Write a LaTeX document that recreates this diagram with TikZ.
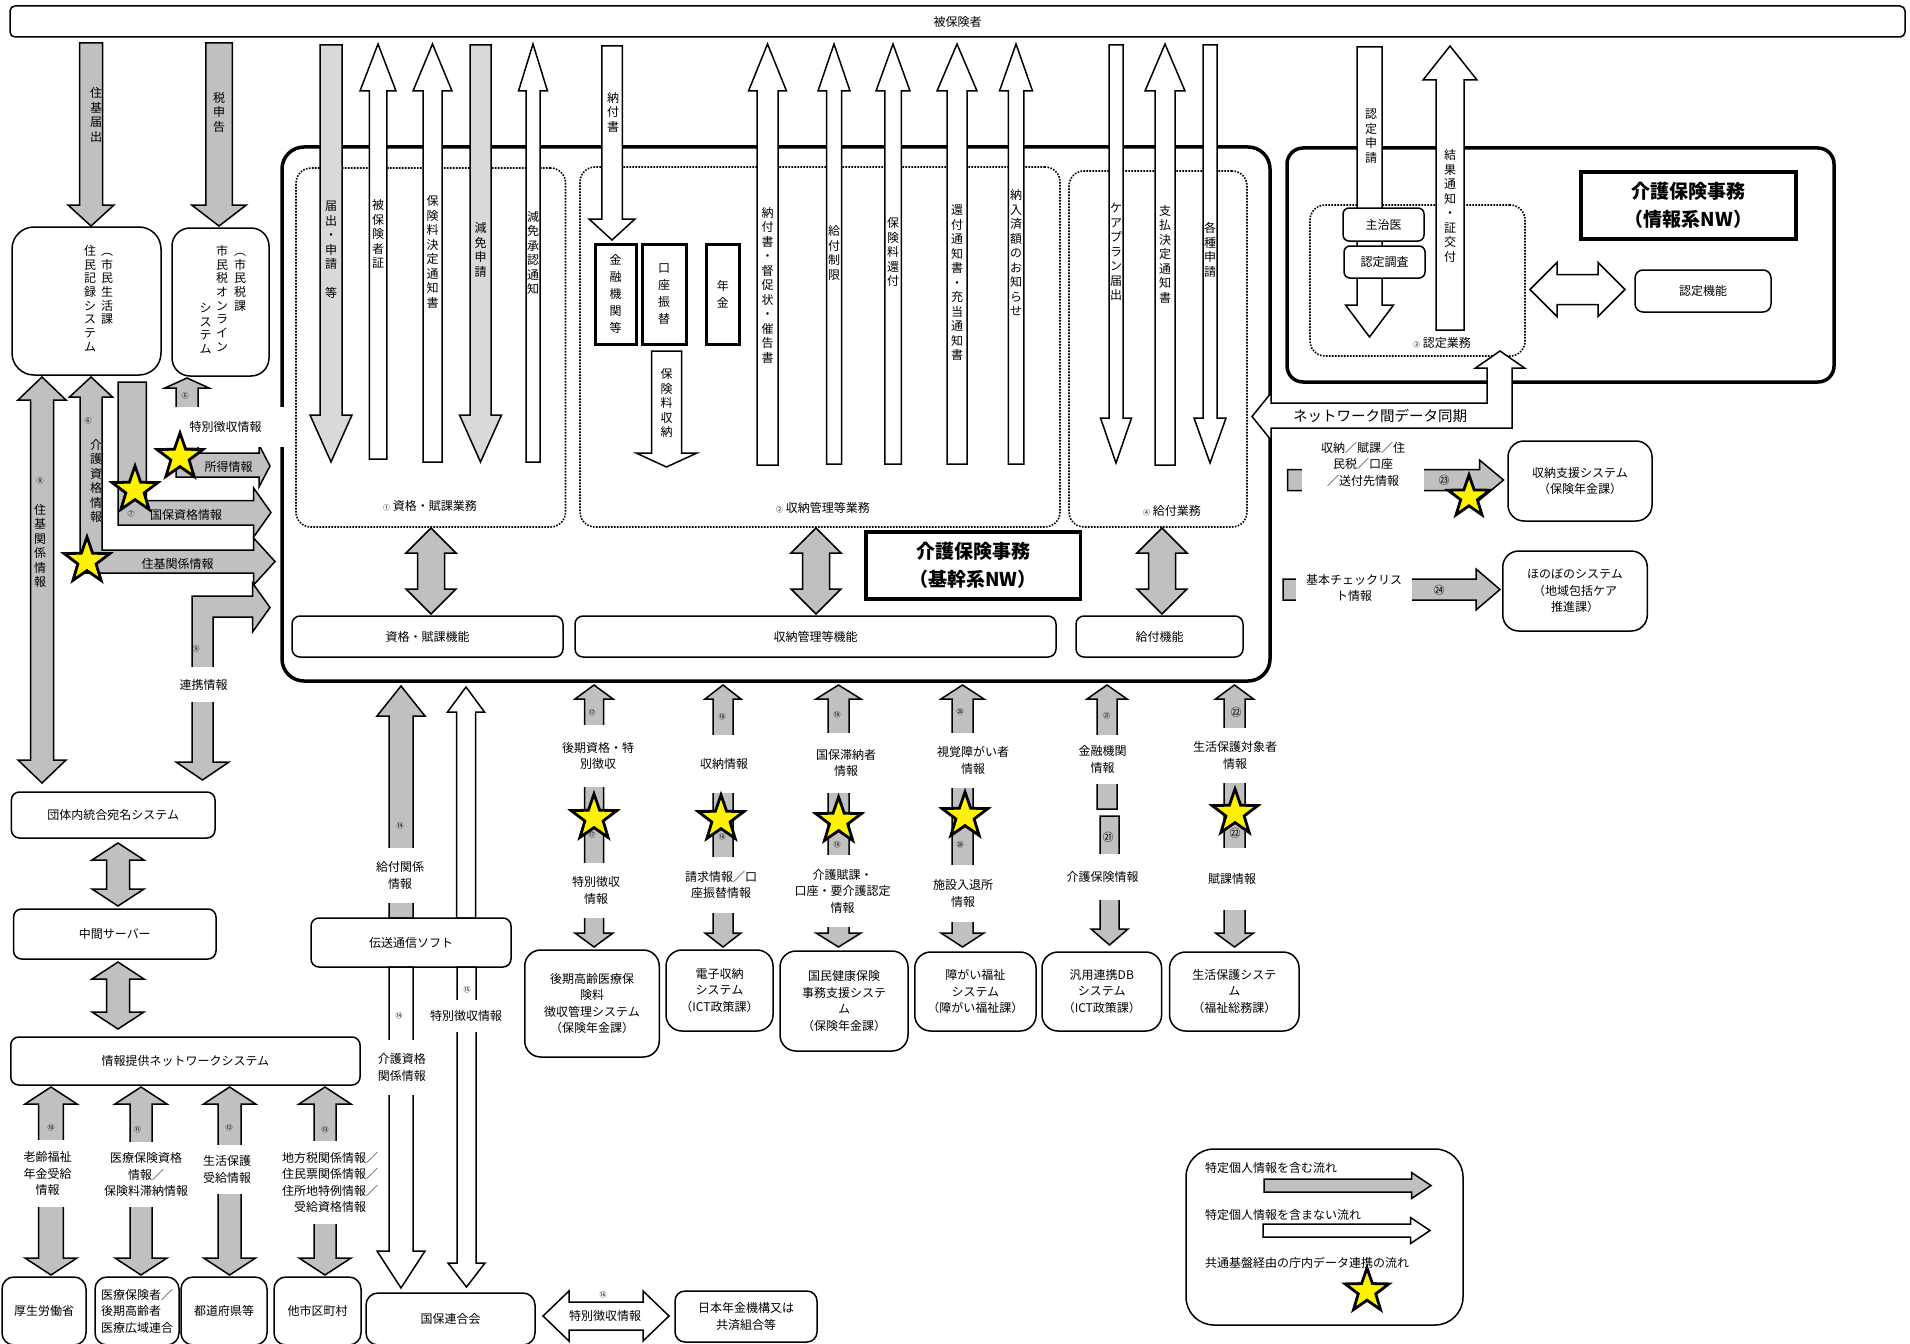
\documentclass[tikz,border=0pt]{standalone}
\usepackage{fontspec}
\setmainfont{Noto Sans CJK JP}
\usepackage{tikz}
\usetikzlibrary{shapes.geometric}
\definecolor{arrgray}{HTML}{C0C0C0}
\definecolor{lgray}{HTML}{D9D9D9}
\newcommand\numfont{\fontsize{7}{8}\selectfont}
\makeatletter
\newcommand\vtxt[1]{\edef\vt@list{#1}\vbox{\expandafter\@tfor\expandafter\vt@c\expandafter:\expandafter=\vt@list\do{\hbox to 1em{\hss\vt@c\hss}}}}
\makeatother
% block arrows: [style]{x or y}{tip}{end}{shaft}{head}{head length}
\newcommand{\vblk}[7][blkg]{%
  \pgfmathsetmacro\bka{#2-#5/2}\pgfmathsetmacro\bkb{#2+#5/2}%
  \pgfmathsetmacro\bkc{#2-#6/2}\pgfmathsetmacro\bkd{#2+#6/2}%
  \pgfmathsetmacro\bke{(#4>#3)?(#3+#7):(#3-#7)}%
  \draw[#1] (#2,#3) -- (\bkd,\bke) -- (\bkb,\bke) -- (\bkb,#4) -- (\bka,#4) -- (\bka,\bke) -- (\bkc,\bke) -- cycle;}
\newcommand{\vdbl}[7][blkg]{%
  \pgfmathsetmacro\bka{#2-#5/2}\pgfmathsetmacro\bkb{#2+#5/2}%
  \pgfmathsetmacro\bkc{#2-#6/2}\pgfmathsetmacro\bkd{#2+#6/2}%
  \pgfmathsetmacro\bke{#3+#7}\pgfmathsetmacro\bkf{#4-#7}%
  \draw[#1] (#2,#3) -- (\bkd,\bke) -- (\bkb,\bke) -- (\bkb,\bkf) -- (\bkd,\bkf) -- (#2,#4) -- (\bkc,\bkf) -- (\bka,\bkf) -- (\bka,\bke) -- (\bkc,\bke) -- cycle;}
\newcommand{\hblk}[7][blkg]{%
  \pgfmathsetmacro\bka{#2-#5/2}\pgfmathsetmacro\bkb{#2+#5/2}%
  \pgfmathsetmacro\bkc{#2-#6/2}\pgfmathsetmacro\bkd{#2+#6/2}%
  \pgfmathsetmacro\bke{(#4>#3)?(#3+#7):(#3-#7)}%
  \draw[#1] (#3,#2) -- (\bke,\bkc) -- (\bke,\bka) -- (#4,\bka) -- (#4,\bkb) -- (\bke,\bkb) -- (\bke,\bkd) -- cycle;}
\newcommand{\hdbl}[7][blkg]{%
  \pgfmathsetmacro\bka{#2-#5/2}\pgfmathsetmacro\bkb{#2+#5/2}%
  \pgfmathsetmacro\bkc{#2-#6/2}\pgfmathsetmacro\bkd{#2+#6/2}%
  \pgfmathsetmacro\bke{#3+#7}\pgfmathsetmacro\bkf{#4-#7}%
  \draw[#1] (#3,#2) -- (\bke,\bkc) -- (\bke,\bka) -- (\bkf,\bka) -- (\bkf,\bkc) -- (#4,#2) -- (\bkf,\bkd) -- (\bkf,\bkb) -- (\bke,\bkb) -- (\bke,\bkd) -- cycle;}
\tikzset{
  sysbox/.style={draw,rounded corners=10pt,line width=1.5pt,align=center,fill=white,inner sep=2pt},
  dotbox/.style={draw,dash pattern=on 1.6pt off 1.4pt,line width=1.6pt,rounded corners=15pt},
  heavybox/.style={draw,line width=3.5pt,align=center,fill=white},
  blkg/.style={draw,line width=1.5pt,fill=arrgray},
  blkw/.style={draw,line width=1.5pt,fill=white},
  blkl/.style={draw,line width=1.5pt,fill=lgray},
  mask/.style={fill=white,inner sep=1pt,align=center},
  tate/.style={font=\fontsize{12}{14.5}\selectfont},
  starmark/.style={star,star points=5,star point ratio=2.5,draw,line width=2.8pt,
                   fill=yellow,minimum size=48pt,inner sep=0pt},
  num/.style={font=\numfont},
  bignum/.style={font=\fontsize{11}{12}\selectfont},
}
\begin{document}
\begin{tikzpicture}[x=1pt,y=-1pt,
  every node/.style={font=\fontsize{12}{16.5}\selectfont,inner sep=1pt}]
\useasboundingbox (0,0) rectangle (1910,1343);
\clip (0,0) rectangle (1910,1343);
% 被保険者
\node[draw,rounded corners=5pt,line width=1.5pt,minimum width=1895pt,minimum height=31pt] (hihoken) at (957.5,21.5) {被保険者};
% frames
\node[draw,rounded corners=22pt,line width=3.5pt,minimum width=988pt,minimum height=534pt] (kikan) at (776,414) {};
\node[draw,rounded corners=16pt,line width=3.5pt,minimum width=547pt,minimum height=234pt] (johokei) at (1560.5,265) {};
\node[dotbox,minimum width=269.5pt,minimum height=359pt] (gyomu1) at (430.75,347.5) {};
\node[dotbox,minimum width=480pt,minimum height=360pt] (gyomu2) at (820,347) {};
\node[dotbox,minimum width=178pt,minimum height=356pt] (gyomu4) at (1158,349) {};
\node[dotbox,minimum width=215pt,minimum height=151pt] (gyomu3) at (1417.5,280.5) {};
\node (lbl1) at (430,506) {{\numfont ①} 資格・賦課業務};
\node (lbl2) at (823,508) {{\numfont ②} 収納管理等業務};
\node (lbl4) at (1172,511) {{\numfont ④} 給付業務};
\node (lbl3) at (1442,343) {{\numfont ③} 認定業務};

% arrows from / to 被保険者
\vblk{91}{226}{43}{23}{46}{21}
\vblk{219}{226}{43}{26.5}{54.7}{21}
\node[tate] (jukitodoke) at (96,115) {\vtxt{住基届出}};
\node[tate] (zeishinkoku) at (219,112) {\vtxt{税申告}};
\vblk[blkl]{331}{462}{45}{22}{42}{47}
\vblk[blkl]{480.5}{462}{45}{21}{42}{47}
\foreach \ax/\sw/\hw/\yb in {378/17.5/36/459, 432.5/19/39/462, 533/14/29/462,
   767.5/21/38/465, 834/15/32/464, 893/16.5/34/464, 957/20/40/464,
   1016/15.5/33/464, 1165/20/40/465}{
  \vblk[blkw]{\ax}{44}{\yb}{\sw}{\hw}{47}
}
\vblk[blkw]{612}{240}{46}{20.5}{46}{21}
\vblk[blkw]{666.5}{467}{351}{30}{61}{14}
\vblk[blkw]{1116}{463}{45}{14}{31}{45}
\vblk[blkw]{1210}{463}{45}{14}{32}{45}
\vblk[blkw]{1369.5}{337}{47}{25}{48}{32}
\vblk[blkw]{1450}{46}{330}{28}{54}{34}
\foreach \ax/\ay/\vlab [count=\i] in {331/250/届出・申請　等, 378/234/被保険者証,
   432.5/252/保険料決定通知書, 480.5/250/減免申請, 533/253/減免承認通知,
   613/112/納付書, 666.5/403/保険料収納, 767.5/285/納付書・督促状・催告書,
   834/253/給付制限, 893/252/保険料還付, 957/283/還付通知書・充当通知書,
   1016/253/納入済額のお知らせ, 1116/252/ケアプラン届出, 1165/254/支払決定通知書,
   1210/250/各種申請, 1371/136/認定申請, 1450/206/結果通知・証交付}{
  \node[tate] (tate\i) at (\ax,\ay) {\vtxt{\vlab}};
}
\node[draw,line width=3pt,minimum width=41pt,minimum height=100pt,font=\fontsize{12}{17}\selectfont] (kinyu) at (615.5,294) {\vtxt{金融機関等}};
\node[draw,line width=3pt,minimum width=44pt,minimum height=100pt,font=\fontsize{12}{17}\selectfont] (koza) at (664,294) {\vtxt{口座振替}};
\node[draw,line width=3pt,minimum width=33.5pt,minimum height=100pt,font=\fontsize{12}{17}\selectfont] (nenkin) at (722.75,294) {\vtxt{年金}};

% 基幹系 functions
\foreach \ax in {431,816,1162}{\vdbl{\ax}{528}{614}{27}{50}{25}}
\node[sysbox,rounded corners=8pt,minimum width=271pt,minimum height=41pt] (kino1) at (427.5,636.5) {資格・賦課機能};
\node[sysbox,rounded corners=8pt,minimum width=481pt,minimum height=41pt] (kino2) at (815.5,636.5) {収納管理等機能};
\node[sysbox,rounded corners=8pt,minimum width=167pt,minimum height=41pt] (kino3) at (1159.5,636.5) {給付機能};
\node[heavybox,minimum width=214.5pt,minimum height=67pt,font=\fontsize{19}{28}\selectfont\bfseries] (ktitle) at (973,565.5) {介護保険事務\\（基幹系NW）};

% 情報系
\node[heavybox,minimum width=215pt,minimum height=67pt,font=\fontsize{19}{28}\selectfont\bfseries] (jtitle) at (1688.5,205.5) {介護保険事務\\（情報系NW）};
\node[sysbox,rounded corners=8pt,minimum width=136pt,minimum height=42pt] (ninteikino) at (1703,291) {認定機能};
\hdbl[blkw]{289.5}{1530}{1625}{30}{54}{27}
\node[sysbox,rounded corners=6pt,minimum width=81pt,minimum height=33pt] (shujii) at (1383.5,224.5) {主治医};
\node[sysbox,rounded corners=6pt,minimum width=81pt,minimum height=32pt] (chosa) at (1384.5,262) {認定調査};
\draw[blkw] (1252,416.5) -- (1271,393) -- (1271,403) -- (1487,403) -- (1487,368) -- (1475.5,368)
  -- (1500,351) -- (1524.5,368) -- (1512,368) -- (1512,428) -- (1271,428) -- (1271,440) -- cycle;
\node[font=\fontsize{14.5}{16}\selectfont] (doki) at (1380,416) {ネットワーク間データ同期};

% right-hand systems
\hblk{480}{1503.5}{1287.5}{21}{40}{24}
\node[mask,minimum width=122pt,minimum height=56pt] (shunolbl) at (1363,464) {収納／賦課／住\\民税／口座\\／送付先情報};
\node[bignum] (n23) at (1444,480) {㉓};
\node[starmark,minimum size=44pt] (star23) at (1469,497) {};
\node[sysbox,rounded corners=16pt,minimum width=144pt,minimum height=80pt] (shunoshien) at (1580,481) {収納支援システム\\（保険年金課）};
\hblk{589.5}{1500}{1283}{21}{41}{24}
\node[mask,minimum width=116pt,minimum height=40pt] (checklbl) at (1354,588) {基本チェックリス\\ト情報};
\node[bignum] (n24) at (1439,590) {㉔};
\node[sysbox,rounded corners=16pt,minimum width=144.5pt,minimum height=80pt] (honobono) at (1575,591) {ほのぼのシステム\\（地域包括ケア\\推進課）};

% left-hand systems
\node[sysbox,rounded corners=22pt,minimum width=149pt,minimum height=148pt] (jumin) at (86.5,301) {};
\node[font=\fontsize{12}{13.7}\selectfont,anchor=north] (juminA) at (90,244) {\vtxt{住民記録システム}};
\node[font=\fontsize{12}{13.7}\selectfont,anchor=north] (juminB) at (107,252) {\vtxt{︵市民生活課}};
\node[sysbox,rounded corners=18pt,minimum width=97pt,minimum height=148pt] (shiminzei) at (220.5,302) {};
\node[font=\fontsize{12}{13.7}\selectfont,anchor=north] (zeiA) at (240,252) {\vtxt{︵市民税課}};
\node[font=\fontsize{12}{13.7}\selectfont,anchor=north] (zeiB) at (222,244) {\vtxt{市民税オンライン}};
\node[font=\fontsize{12}{13.7}\selectfont,anchor=north] (zeiC) at (205.5,302) {\vtxt{システム}};
\vdbl{42}{377}{783}{23}{48}{23}
\draw[blkg] (91,377) -- (112.5,397) -- (102,397) -- (102,550) -- (253.6,550) -- (253.6,538) -- (275,561.5)
  -- (253.6,585) -- (253.6,573) -- (80,573) -- (80,397) -- (69.5,397) -- cycle;
\draw[blkg] (118,382) -- (146.4,382) -- (146.4,500.7) -- (253.6,500.7) -- (253.6,488) -- (271,512.5)
  -- (253.6,537) -- (253.6,525) -- (118,525) -- cycle;
\draw[blkg] (187,378) -- (209,388) -- (198,388) -- (198,453) -- (259,453) -- (259,445) -- (270,466)
  -- (259,487) -- (259,477) -- (176,477) -- (176,388) -- (165,388) -- cycle;
\draw[blkg] (270,607.5) -- (252.5,583) -- (252.5,596) -- (192,596) -- (192,762) -- (176,762) -- (202.5,780)
  -- (229,762) -- (213,762) -- (213,617) -- (252.5,617) -- (252.5,632) -- cycle;
\node[mask,minimum width=121pt,minimum height=40pt] (tokucho1) at (225.5,427) {特別徴収情報};
\node[mask,minimum width=62pt,minimum height=35pt] (renkei) at (203.6,684.5) {連携情報};
\node (shotoku) at (228.6,467) {所得情報};
\node (kokuhoshikaku) at (186,515) {国保資格情報};
\node (jukikankei) at (177.5,564) {住基関係情報};
\node[tate] (jukikankeiV) at (40,546) {\vtxt{住基関係情報}};
\node[tate] (kaigoshikakuV) at (96,481) {\vtxt{介護資格情報}};
\node[starmark] (st1) at (180,457) {};
\node[starmark] (st2) at (135,490) {};
\node[starmark] (st3) at (87,561) {};
\node[num] (n5) at (185,396) {⑤};
\node[num] (n6) at (88,421) {⑥};
\node[num] (n7) at (131,514) {⑦};
\node[num] (n8) at (40,481) {⑧};
\node[num] (n9) at (196,649) {⑨};

% 番号制度 side
\node[sysbox,rounded corners=8pt,minimum width=203.6pt,minimum height=46pt] (dantai) at (113.2,815) {団体内統合宛名システム};
\vdbl{118}{843}{906}{23}{52}{17}
\node[sysbox,rounded corners=8pt,minimum width=202.4pt,minimum height=50pt] (chukan) at (114.8,934) {中間サーバー};
\vdbl{118}{962}{1029}{23}{52}{17}
\node[sysbox,rounded corners=8pt,minimum width=349.3pt,minimum height=48pt] (teikyo) at (185.4,1061) {情報提供ネットワークシステム};
\foreach \ax/\sw in {51/24.6,141/22,229.6/23,325/22}{\vdbl{\ax}{1087}{1275}{\sw}{52}{17}}
\node[mask,minimum height=67pt] (roureiL) at (47.5,1173.5) {老齢福祉\\年金受給\\情報};
\node[mask,minimum height=65pt] (iryoL) at (146,1174.5) {医療保険資格\\情報／\\保険料滞納情報};
\node[mask,minimum height=49pt] (seihoL) at (227,1169.5) {生活保護\\受給情報};
\node[mask,minimum height=83pt] (chihoL) at (330,1182.5) {地方税関係情報／\\住民票関係情報／\\住所地特例情報／\\受給資格情報};
\node[num] (n10) at (51,1128) {⑩};
\node[num] (n11) at (137.5,1130) {⑪};
\node[num] (n12) at (229,1128) {⑫};
\node[num] (n13) at (325,1130) {⑬};
\node[sysbox,rounded corners=12pt,minimum width=84pt,minimum height=68pt] (kosei) at (44,1311) {厚生労働省};
\node[sysbox,rounded corners=12pt,minimum width=84pt,minimum height=68pt,align=left] (iryo) at (137,1311) {医療保険者／\\後期高齢者\\医療広域連合};
\node[sysbox,rounded corners=12pt,minimum width=86pt,minimum height=68pt] (todofuken) at (224,1311) {都道府県等};
\node[sysbox,rounded corners=12pt,minimum width=87pt,minimum height=68pt] (tashi) at (317.5,1311) {他市区町村};

% 伝送通信ソフト / 国保連合会
\vblk{401}{686}{918}{24}{48}{30}
\vblk[blkw]{466}{687}{918}{19}{37}{25}
\node[mask,minimum height=55pt] (kyufukankei) at (400,875.5) {給付関係\\情報};
\node[sysbox,rounded corners=8pt,minimum width=200pt,minimum height=49pt] (densou) at (411,942.5) {伝送通信ソフト};
\vblk[blkw]{401}{1288}{967}{24}{48}{37}
\vblk[blkw]{466.5}{1287}{967}{19}{37}{24}
\node[mask,minimum height=55pt] (kaigokankei) at (401.8,1067.5) {介護資格\\関係情報};
\node[mask,minimum height=32pt] (tokucho2) at (466,1016) {特別徴収情報};
\node[num] (n14a) at (400,826) {⑭};
\node[num] (n14b) at (399,1016) {⑭};
\node[num] (n15) at (467,990) {⑮};
\node[sysbox,rounded corners=12pt,minimum width=169pt,minimum height=52pt] (kokuhoren) at (450.5,1319) {国保連合会};
\hdbl[blkw]{1316}{543}{669}{28}{50}{26}
\node (tokucho3) at (605,1316) {特別徴収情報};
\node[num] (n16) at (603,1295) {⑯};
\node[sysbox,rounded corners=10pt,minimum width=142pt,minimum height=51pt] (nihon) at (746,1316.5) {日本年金機構又は\\共済組合等};

% 庁内システム
\foreach \ax/\sw/\hw in {594/19/38, 723/20/36, 838.5/21/45, 962.5/21/43, 1234.5/21/38}{
  \vdbl{\ax}{685}{947}{\sw}{\hw}{14}
}
\vblk{1107}{685}{809}{20}{40}{14}
\vblk{1109.5}{945}{816}{19}{37}{16}
\node[mask,minimum height=62pt] (kokiA) at (598,756) {後期資格・特\\別徴収};
\node[mask,minimum height=55pt] (kokiB) at (596,890.5) {特別徴収\\情報};
\node[mask,minimum height=58pt] (shunoA) at (724,764) {収納情報};
\node[mask,minimum height=56pt] (shunoB) at (721,885) {請求情報／口\\座振替情報};
\node[mask,minimum height=60pt] (tainoA) at (846,763) {国保滞納者\\情報};
\node[mask,minimum height=72pt] (tainoB) at (842.6,891) {介護賦課・\\口座・要介護認定\\情報};
\node[mask,minimum height=55pt] (shikakuA) at (973,760.5) {視覚障がい者\\情報};
\node[mask,minimum height=57pt] (shikakuB) at (963,893.5) {施設入退所\\情報};
\node[mask,minimum height=49pt] (kinyuA) at (1102.5,759.5) {金融機関\\情報};
\node[mask,minimum height=46pt] (kinyuB) at (1102.5,877) {介護保険情報};
\node[mask,minimum height=55pt] (seihoA) at (1235,755.5) {生活保護対象者\\情報};
\node[mask,minimum height=62pt] (seihoB) at (1232,879) {賦課情報};
\foreach \ax/\ay [count=\i] in {594/818, 721/819, 838.6/821, 965/816, 1235/813}{
  \node[starmark] (bst\i) at (\ax,\ay) {};
}
\foreach \ax/\ay/\nn [count=\i] in {592/713/⑰, 592/835/⑰, 722/717/⑱, 722/837/⑱,
   837/715/⑲, 837/845/⑲, 960/712/⑳, 960/845/⑳, 1106.7/716/㉑}{
  \node[num] (nb\i) at (\ax,\ay) {\nn};
}
\node[bignum] (n21) at (1108,837) {㉑};
\node[bignum] (n22a) at (1236,712) {㉒};
\node[bignum] (n22b) at (1235,833) {㉒};
\node[sysbox,rounded corners=16pt,minimum width=134.5pt,minimum height=107pt] (kouki) at (592,1003.5) {後期高齢医療保\\険料\\徴収管理システム\\（保険年金課）};
\node[sysbox,rounded corners=16pt,minimum width=107pt,minimum height=81pt] (denshi) at (719.5,990.5) {電子収納\\システム\\（ICT政策課）};
\node[sysbox,rounded corners=16pt,minimum width=128pt,minimum height=100pt] (kokumin) at (844,1001) {国民健康保険\\事務支援システ\\ム\\（保険年金課）};
\node[sysbox,rounded corners=16pt,minimum width=121.3pt,minimum height=79pt] (shogai) at (975.4,991.5) {障がい福祉\\システム\\（障がい福祉課）};
\node[sysbox,rounded corners=16pt,minimum width=119.6pt,minimum height=79pt] (hanyo) at (1101.8,991.5) {汎用連携DB\\システム\\（ICT政策課）};
\node[sysbox,rounded corners=16pt,minimum width=129.5pt,minimum height=79pt] (seikatsu) at (1234.3,991.5) {生活保護システ\\ム\\（福祉総務課）};

% legend
\node[sysbox,rounded corners=28pt,minimum width=277pt,minimum height=176pt] (hanrei) at (1324.5,1237) {};
\node[anchor=west] (hanreiA) at (1204,1168) {特定個人情報を含む流れ};
\hblk{1185.5}{1431}{1264}{13}{26}{19.5}
\node[anchor=west] (hanreiB) at (1204,1215) {特定個人情報を含まない流れ};
\hblk[blkw]{1230.5}{1430}{1263}{13}{26}{19.5}
\node[anchor=west] (hanreiC) at (1204,1263) {共通基盤経由の庁内データ連携の流れ};
\node[starmark,minimum size=46pt] (hanreiS) at (1367,1291) {};
\end{tikzpicture}
\end{document}
